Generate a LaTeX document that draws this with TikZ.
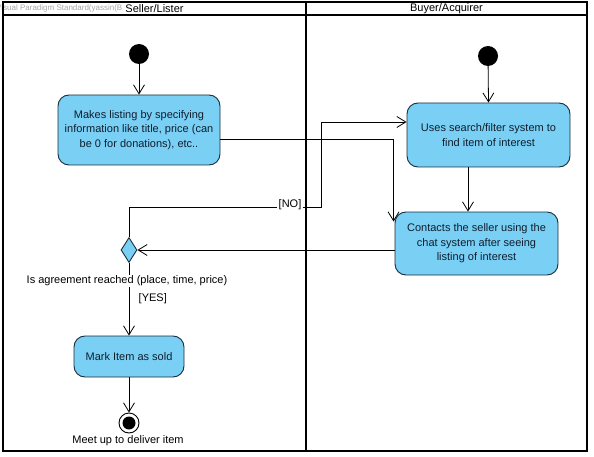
\documentclass[tikz,border=0pt]{standalone}
\usepackage{fontspec}
\setmainfont{Liberation Sans}
\usetikzlibrary{arrows.meta,shapes.geometric}
\definecolor{actfill}{RGB}{122,207,245}
\definecolor{actdraw}{RGB}{25,45,60}
\definecolor{acttext}{RGB}{15,30,45}
\tikzset{
  act/.style={draw=actdraw, fill=actfill, rounded corners=11pt, line width=0.9pt,
    align=center, text=acttext, font=\fontsize{11}{14.5}\selectfont, inner sep=0pt},
  flow/.style={draw=black, line width=0.8pt, -{Straight Barb[length=9pt,width=11pt,line width=0.8pt]}},
  lane/.style={draw=black, line width=1.6pt},
  lbl/.style={font=\fontsize{11}{13}\selectfont, text=black, inner sep=0.5pt},
  startnode/.style={circle, fill=black, minimum size=20pt, inner sep=0pt},
}
\begin{document}
\begin{tikzpicture}[x=1pt,y=-1pt]
\useasboundingbox (0,0) rectangle (594,457);
% watermark
\node[anchor=west, text=gray!70, font=\fontsize{8}{9}\selectfont, inner sep=0pt] (wm) at (-4,8) {Visual Paradigm Standard(yassin(B};
% lanes
\draw[lane] (3,2) rectangle (587,451);
\draw[lane] (3,15) -- (587,15);
\draw[lane] (306,2) -- (306,451);
\node[font=\fontsize{11}{12}\selectfont, inner sep=0pt] (h1) at (154.5,8.5) {Seller/Lister};
\node[font=\fontsize{11}{12}\selectfont, inner sep=0pt] (h2) at (446.5,8.5) {Buyer/Acquirer};
% nodes
\node[startnode] (init1) at (139,54) {};
\node[startnode] (init2) at (488,56) {};
\node[act, minimum width=162pt, minimum height=70pt] (box1) at (139,130)
  {Makes listing by specifying\\information like title, price (can\\be 0 for donations), etc..};
\node[act, minimum width=163pt, minimum height=64pt] (box2) at (488.5,135)
  {Uses search/filter system to\\find item of interest};
\node[act, minimum width=163pt, minimum height=63pt] (box3) at (476.5,243.5)
  {Contacts the seller using the\\chat system after seeing\\listing of interest};
\node[diamond, draw=actdraw, fill=actfill, line width=0.9pt, minimum width=16pt, minimum height=25pt, inner sep=0pt] (dec) at (129,250) {};
\node[act, minimum width=110pt, minimum height=41pt] (box4) at (129,356.5) {Mark Item as sold};
\node[circle, draw=black, line width=0.9pt, fill=white, minimum size=20pt, inner sep=0pt] (final) at (129,423) {};
\node[circle, fill=black, minimum size=13pt, inner sep=0pt] (finalin) at (final.center) {};
% coordinates
\coordinate (noturn) at (321,207);
\coordinate (c3in) at ([xshift=-1pt,yshift=-10pt]box3.north west);
% connectors
\draw[flow] (init1) -- (box1.north);
\draw[flow] (init2) -- (box2.north);
\draw[flow] ([xshift=-20.5pt]box2.south) -- ([xshift=-8.5pt]box3.north);
\draw[flow] ([yshift=-9pt]box1.east) -| (c3in);
\draw[flow] (box3.west |- dec.east) -- (dec.east);
\draw[flow] (dec.north) |- (noturn) |- ([yshift=13pt]box2.west);
\draw[flow] (dec.south) -- (box4.north);
\draw[flow] (box4.south) -- (final.north);
% labels
\node[lbl, fill=white, inner sep=1.5pt] (nolbl) at (290,205) {[NO]};
\node[lbl, fill=white] (declbl) at (127,281) {Is agreement reached (place, time, price)};
\node[lbl, anchor=west] (yeslbl) at (138,299) {[YES]};
\node[lbl] (finlbl) at (128,441) {Meet up to deliver item};
\end{tikzpicture}
\end{document}
